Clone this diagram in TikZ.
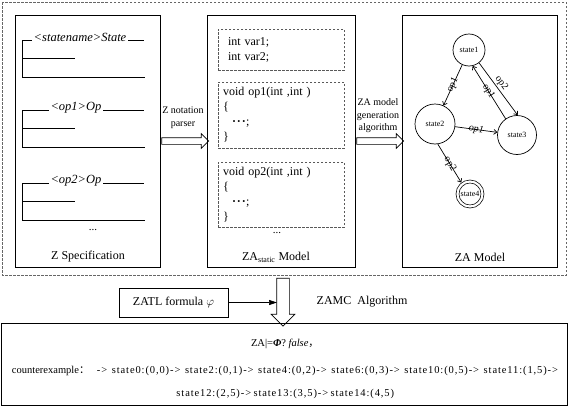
\documentclass[tikz,border=0pt]{standalone}
\usepackage{fontspec}
\setmainfont{Liberation Serif}
\newfontfamily\cjk{Noto Sans CJK SC}
\newfontfamily\wideserif[LetterSpace=8.5]{Liberation Serif}
\usetikzlibrary{positioning,arrows.meta,shapes.arrows,calc}

\begin{document}
\begin{tikzpicture}[
  x=1pt, y=-1pt, line width=0.7pt,
  every node/.style={font=\fontsize{11}{13}\selectfont},
  panel/.style={draw, minimum height=252pt},
  caption/.style={font=\fontsize{12}{14}\selectfont},
  codebox/.style={draw=black!65, dash pattern=on 2.5pt off 1.5pt, minimum width=126pt,
                  align=left, font=\fontsize{12}{15}\selectfont},
  schemalab/.style={fill=white, inner xsep=1.5pt, inner ysep=0pt,
                    font=\fontsize{12.5}{14}\selectfont\itshape},
  blockarrow/.style={draw, single arrow, single arrow head indent=0pt},
  arrowlab/.style={align=center, font=\fontsize{10}{12.5}\selectfont},
  state/.style={circle, draw, inner sep=0pt, font=\fontsize{8}{9}\selectfont},
  trans/.style={-{Straight Barb[length=3pt,width=5pt]}},
  translab/.style={sloped, inner sep=1pt, font=\fontsize{10}{11}\selectfont},
  frame/.style={draw=black!60, dash pattern=on 2.5pt off 1.5pt}
]
  \fill[white] (0,0) rectangle (568,407);
  \useasboundingbox (0,0) rectangle (568,407);

  % --- outer frame round the three models ---
  \draw[frame] (2,2) rectangle (566,275);

  % --- the three panels ---
  \node[panel, minimum width=145pt] (zspec)    at (87.5,141) {};
  \node[panel, minimum width=148pt] (zastatic) at (281,141)  {};
  \node[panel, minimum width=155pt] (zamodel)  at (479.5,141) {};

  % --- Z specification: schema boxes ---
  \foreach \y/\x/\lab/\nm in {40/80/{<statename>State}/sstate,
                               110/76/{<op1>Op}/sop1,
                               183/76/{<op2>Op}/sop2}{
    \draw (22,\y) -- (144,\y);
    \draw (22,\y) -- (22,\y+37) -- (145,\y+37);
    \draw (22,\y+18) -- (75,\y+18);
    \node[schemalab] (\nm) at (\x,\y-2.5) {\lab};
  }
  \node (zspecdots) at (93,230) {...};
  \node[caption] (zspeccap) at (88,257) {Z Specification};

  % --- ZA static model: code boxes ---
  \node[codebox, text width=106pt, inner xsep=10pt, minimum height=41pt] (vars) at (281,49.5)
    {int var1;\\int var2;};
  \node[codebox, text width=116pt, inner xsep=5pt, minimum height=66pt] (op1code) at (281,115)
    {void op1(int ,int )\\\{\\\hspace*{9pt}\textbf{·\kern1pt·\kern1pt·};\\\}};
  \node[codebox, text width=116pt, inner xsep=5pt, minimum height=65pt] (op2code) at (281,194.5)
    {void op2(int ,int )\\\{\\\hspace*{9pt}\textbf{·\kern1pt·\kern1pt·};\\\}};
  \node (codedots) at (277,233) {...};
  \node[caption] (zastaticcap) at (276,257) {ZA\textsubscript{static} Model};

  % --- ZA model: automaton ---
  \node[state, minimum size=32pt] (state1) at (469,50)  {state1};
  \node[state, minimum size=40pt] (state2) at (435,124) {state2};
  \node[state, minimum size=39pt] (state3) at (517,135) {state3};
  \node[state, double, double distance=2.2pt, minimum size=25pt] (state4) at (470,194) {state4};

  \draw[trans] (state1) -- node[translab] {op1} (state2);
  \draw[trans] (state3.125) -- node[translab, pos=0.52] {op1} (state1.-77);
  \draw[trans] (state1.-52) -- node[translab, above=0.5pt, pos=0.45] {op2} (state3.88);
  \draw[trans] (state2) -- node[translab] {\textit{op1}} (state3);
  \draw[trans, shorten >=1.5pt] (state2.-82) -- node[translab] {op2} (state4.128);
  \node[caption] (zamodelcap) at (480,257) {ZA Model};

  % --- block arrows between the panels ---
  \node[blockarrow, inner sep=3pt, single arrow head extend=4pt, minimum height=47pt] (zparse)
    at ($(zspec.east)!0.5!(zastatic.west)$) {};
  \node[arrowlab] (zparselab) at (183,118) {Z notation\\parser};
  \node[blockarrow, inner sep=3pt, single arrow head extend=4pt, minimum height=47pt] (zagen)
    at ($(zastatic.east)!0.5!(zamodel.west)$) {};
  \node[arrowlab] (zagenlab) at (378,116) {ZA model\\generation\\algorithm};

  % --- model checking step ---
  \node[blockarrow, shape border rotate=270, inner sep=6pt, single arrow head extend=5.5pt,
        minimum height=48pt] (zamc) at (283,299) {};
  \node[draw, caption, minimum width=109pt, minimum height=29pt] (zatl) at (173.5,302.5)
    {ZATL formula $\varphi$};
  \draw[-{Triangle[length=8pt,width=5pt]}, shorten >=6pt] (zatl) -- (zatl -| zamc);
  \node[caption] (zamclab) at (362,302) {ZAMC\ \ Algorithm};

  % --- result of the check ---
  \node[draw, minimum width=566pt, minimum height=82pt] (result) at (284,364) {};
  \node[align=center, font=\fontsize{10.5}{23}\selectfont] (resulttext)
    at ([xshift=1pt, yshift=-5pt]result.center)
    {ZA|=\textbf{\textit{Φ}}? \textit{false}{\cjk ，}\\[4pt]
     \makebox[546pt][s]{counterexample{\cjk ：}\hspace{4pt} {\wideserif -> state0:(0,0)-> state2:(0,1)-> state4:(0,2)-> state6:(0,3)-> state10:(0,5)-> state11:(1,5)->}}\\
     \makebox[217pt][s]{\wideserif state12:(2,5)-> state13:(3,5)-> state14:(4,5)}};
\end{tikzpicture}
\end{document}
